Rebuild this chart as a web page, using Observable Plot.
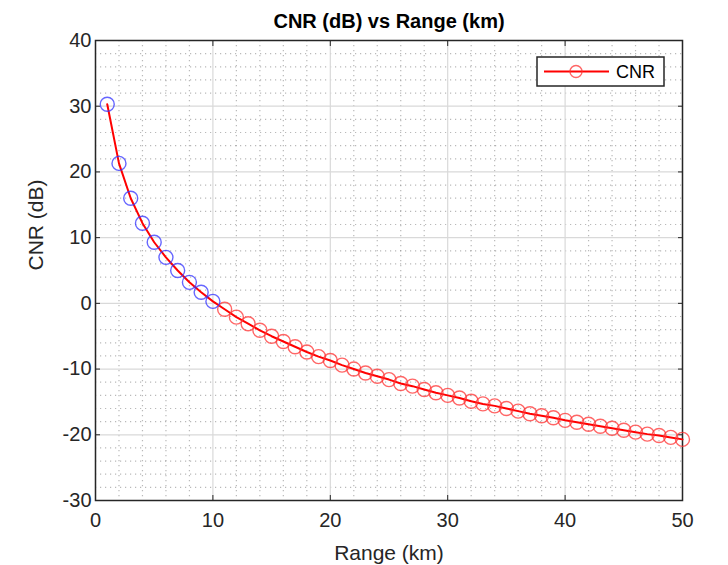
<!DOCTYPE html>
<html>
<head>
<meta charset="utf-8">
<script src="https://cdn.jsdelivr.net/npm/d3@7"></script>
<script src="https://cdn.jsdelivr.net/npm/@observablehq/plot@0.6"></script>
<style>
  html, body { margin: 0; padding: 0; background: #ffffff; }
  #chart svg { display: block; }
</style>
</head>
<body>
<div id="chart"></div>
<script>
const rangeKm = [1,2,3,4,5,6,7,8,9,10,11,12,13,14,15,16,17,18,19,20,21,22,23,24,25,26,27,28,29,30,31,32,33,34,35,36,37,38,39,40,41,42,43,44,45,46,47,48,49,50];
const cnrDb = [30.3,21.3,16.0,12.2,9.3,7.0,5.0,3.2,1.7,0.3,-0.9,-2.1,-3.1,-4.1,-5.0,-5.8,-6.6,-7.4,-8.1,-8.7,-9.4,-10.0,-10.6,-11.1,-11.6,-12.2,-12.6,-13.1,-13.6,-14.0,-14.4,-14.9,-15.3,-15.6,-16.0,-16.4,-16.8,-17.1,-17.4,-17.8,-18.1,-18.4,-18.7,-19.0,-19.3,-19.6,-19.9,-20.1,-20.4,-20.7];
const highlightCount = 10;
const xTicks = [0,10,20,30,40,50];
const yTicks = [-30,-20,-10,0,10,20,30,40];
const xMinor = [2,4,6,8,12,14,16,18,22,24,26,28,32,34,36,38,42,44,46,48];
const yMinor = [-28,-26,-24,-22,-18,-16,-14,-12,-8,-6,-4,-2,2,4,6,8,12,14,16,18,22,24,26,28,32,34,36,38];
const titleText = "CNR (dB) vs Range (km)";
const xLabel = "Range (km)";
const yLabel = "CNR (dB)";
const seriesName = "CNR";

const data = rangeKm.map((r, i) => ({r, v: cnrDb[i], hi: i < highlightCount}));

const W = 728, H = 565;
const mL = 95, mR = 46, mT = 40, mB = 65;
const axisCol = "#262626";
const font = "'Liberation Sans', Arial, Helvetica, sans-serif";
const fmt = d => String(d);

const plot = Plot.plot({
  width: W, height: H,
  marginLeft: mL, marginRight: mR, marginTop: mT, marginBottom: mB,
  style: {fontFamily: font, background: "#ffffff", overflow: "visible"},
  x: {domain: [0, 50]},
  y: {domain: [-30, 40]},
  marks: [
    Plot.gridX(xMinor, {stroke: "#808080", strokeOpacity: 0.55, strokeDasharray: "1.2,3.8", strokeWidth: 1.2}),
    Plot.gridY(yMinor, {stroke: "#808080", strokeOpacity: 0.55, strokeDasharray: "1.2,3.8", strokeWidth: 1.2}),
    Plot.gridX(xTicks, {stroke: "#d9d9d9", strokeOpacity: 1, strokeWidth: 1.2}),
    Plot.gridY(yTicks, {stroke: "#d9d9d9", strokeOpacity: 1, strokeWidth: 1.2}),
    Plot.axisX(xTicks, {anchor: "bottom", tickSize: -5, tickPadding: 17, tickFormat: fmt, stroke: axisCol, color: axisCol, fontSize: 20, label: null}),
    Plot.axisX(xTicks, {anchor: "top", tickSize: -5, text: null, stroke: axisCol, label: null}),
    Plot.axisY(yTicks, {anchor: "left", tickSize: -5, tickPadding: 9, tickFormat: fmt, stroke: axisCol, color: axisCol, fontSize: 20, label: null}),
    Plot.axisY(yTicks, {anchor: "right", tickSize: -5, text: null, stroke: axisCol, label: null}),
    Plot.frame({stroke: axisCol, strokeWidth: 1.5}),
    Plot.line(data, {x: "r", y: "v", stroke: "#ff0000", strokeWidth: 2}),
    Plot.dot(data.filter(d => !d.hi), {x: "r", y: "v", r: 7, stroke: "#ff3333", strokeOpacity: 0.75, strokeWidth: 1.4, fill: "none"}),
    Plot.dot(data.filter(d => d.hi), {x: "r", y: "v", r: 7, stroke: "#3333ff", strokeOpacity: 0.75, strokeWidth: 1.4, fill: "none"}),
    Plot.text([titleText], {frameAnchor: "top", dy: -27, fontSize: 20, fontWeight: "bold", fill: "#000000"}),
    Plot.text([xLabel], {frameAnchor: "bottom", dy: 59, fontSize: 21, fill: axisCol}),
    Plot.text([yLabel], {frameAnchor: "left", dx: -59, rotate: -90, fontSize: 21, fill: axisCol})
  ]
});

// Legend inside the plot (top-right)
const svg = d3.select(plot);
const lg = svg.append("g").attr("font-family", font).attr("text-anchor", "start");
const lx = 537, ly = 57, lw = 127, lh = 29;
lg.append("rect").attr("x", lx).attr("y", ly).attr("width", lw).attr("height", lh)
  .attr("fill", "#ffffff").attr("stroke", axisCol).attr("stroke-width", 1.5);
lg.append("line").attr("x1", lx + 7).attr("x2", lx + 72).attr("y1", ly + lh / 2).attr("y2", ly + lh / 2)
  .attr("stroke", "#ff0000").attr("stroke-width", 2);
lg.append("circle").attr("cx", lx + 39).attr("cy", ly + lh / 2).attr("r", 6)
  .attr("fill", "none").attr("stroke", "#ff3333").attr("stroke-opacity", 0.75).attr("stroke-width", 1.4);
lg.append("text").attr("x", lx + 79).attr("y", ly + lh / 2).attr("dy", "0.35em")
  .attr("text-anchor", "start").attr("font-size", 18).attr("fill", "#000000").text(seriesName);

document.getElementById("chart").appendChild(plot);
</script>
</body>
</html>
